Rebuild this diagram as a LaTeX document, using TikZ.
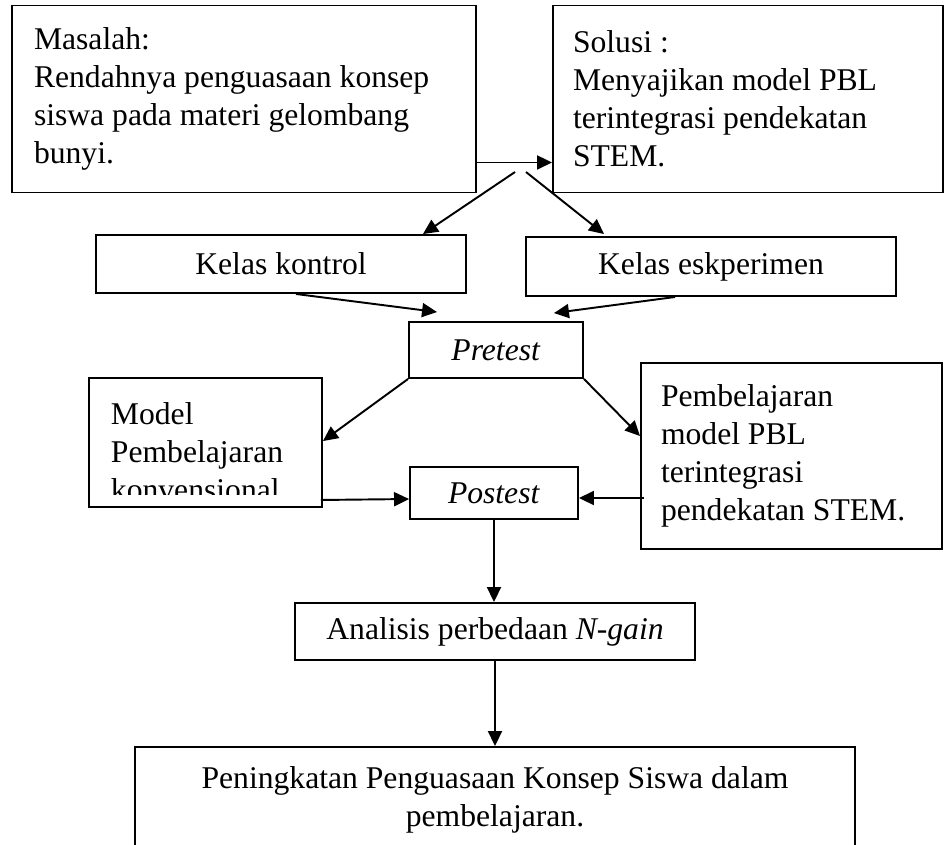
\documentclass[tikz,border=0pt]{standalone}
\usepackage{fontspec}
\setmainfont{Liberation Serif}
\usetikzlibrary{arrows.meta,positioning,calc}

\begin{document}
\begin{tikzpicture}[x=0.1mm,y=-0.1mm,>={Triangle[length=1.5mm,width=1.4mm]},line width=0.55pt,font=\fontsize{9pt}{10.8pt}\selectfont,box/.style={draw,inner sep=0pt,align=center},txtbox/.style={draw,inner ysep=0pt,align=flush left}]
\useasboundingbox (0,0) rectangle (946,844);
\clip (0,0) rectangle (946,844);
\node[txtbox,inner xsep=2.2mm,text width=42mm,minimum height=18.7mm] (masalah) at (244,99) {Masalah:\\Rendahnya penguasaan konsep\\siswa pada materi gelombang\\bunyi.};
\node[txtbox,inner xsep=2mm,text width=35mm,minimum height=18.7mm] (solusi) at (748,99) {Solusi :\\Menyajikan model PBL\\terintegrasi pendekatan\\STEM.};
\draw[->] ($(masalah.south east)+(0,-31)$)--($(solusi.south west)+(0,-31)$);
\node[box,minimum width=37mm,minimum height=5.8mm] (kontrol) at (281,264) {Kelas kontrol};
\node[box,minimum width=37mm,minimum height=5.9mm] (eksperimen) at (711,266.5) {Kelas eskperimen};
\coordinate (split1) at (515,172);
\coordinate (split2) at (526,172);
\draw[->] (split1)--($(kontrol.north east)+(-44,0)$);
\draw[->] (split2)--($(eksperimen.north west)+(79,-2)$);
\node[box,minimum width=17.4mm,minimum height=5.6mm] (pretest) at (496,350) {\textit{Pretest}};
\draw[->] ($(kontrol.south)+(15,0)$)--($(pretest.north west)+(29,-9)$);
\draw[->] ($(eksperimen.south)+(-36,0)$)--($(pretest.north east)+(-30,-8)$);
\node[box,minimum width=23.3mm,minimum height=12.9mm] (model) at (205.5,442.5) {};
\begin{scope}
\clip (model.north west) rectangle ($(model.south east)+(0,-13)$);
\node[anchor=west,inner sep=0pt,text width=20mm,align=flush left] (modeltxt) at (110,452) {Model\\Pembelajaran\\konvensional};
\end{scope}
\node[txtbox,inner xsep=2mm,text width=26.1mm,minimum height=18.6mm] (pbl) at (791.5,456) {Pembelajaran\\model PBL\\terintegrasi\\pendekatan STEM.};
\draw[->] (pretest.south west)--($(model.north east)+(0,64)$);
\draw[->] (pretest.south east)--($(pbl.north west)+(0,74)$);
\node[box,minimum width=16.8mm,minimum height=5.2mm] (postest) at (494,493) {\textit{Postest}};
\draw[->] ($(model.south east)+(-2,-8)$)--($(postest.west)+(0,6)$);
\draw[->] ($(pbl.west)+(4,42)$)--($(postest.east)+(0,5)$);
\node[box,minimum width=40mm,minimum height=5.7mm] (analisis) at (495,631.5) {Analisis perbedaan \textit{N-gain}};
\draw[->] (postest.south)--(postest.south |- analisis.north);
\node[box,minimum width=72mm,minimum height=10.6mm] (hasil) at (495,800) {Peningkatan Penguasaan Konsep Siswa dalam\\pembelajaran.};
\draw[->] (analisis.south)--(analisis.south |- hasil.north);
\end{tikzpicture}
\end{document}
